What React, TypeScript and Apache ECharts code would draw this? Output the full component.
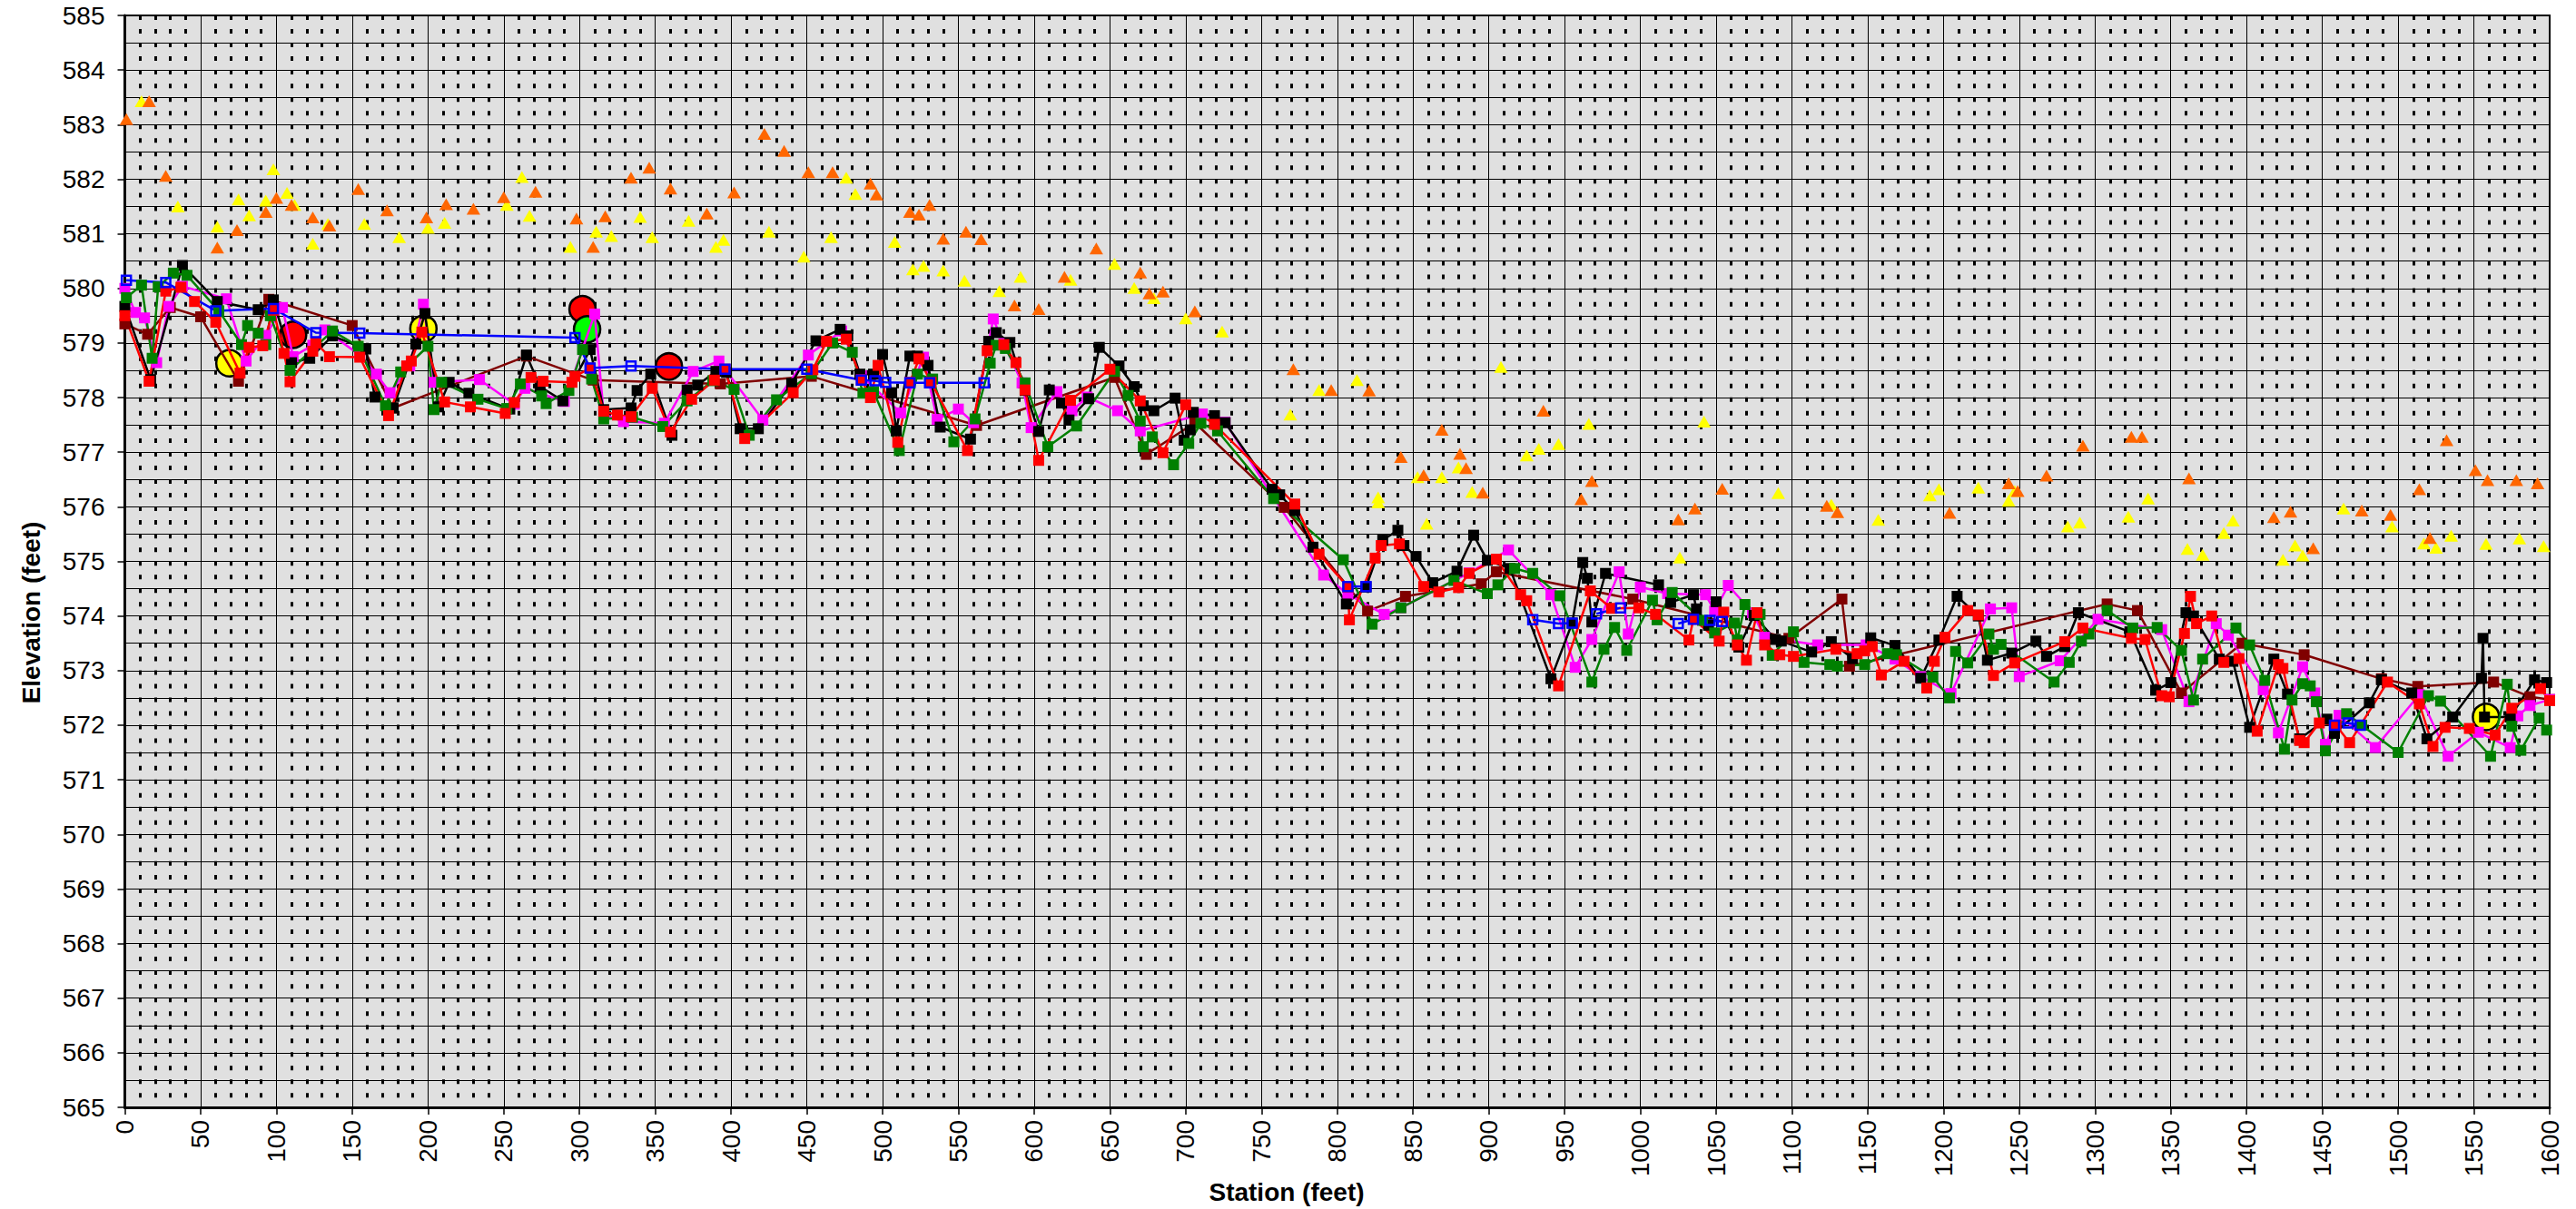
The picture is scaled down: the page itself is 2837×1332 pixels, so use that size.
import React, { useEffect, useRef } from "react";
import * as echarts from "echarts";

const W = 2837;
const H = 1332;
const FONT = "'Liberation Sans', Arial, sans-serif";

// Axis ranges / ticks
const xMin = 0, xMax = 1600, xStep = 50;
const yMin = 565, yMax = 585, yStep = 1;

// [station, elevation]
const blackSeries: [number, number][] = [
  [0,579.67],[17,578.33],[38,580.42],[61,579.76],[88,579.61],[98,579.79],[110,578.64],[122,578.72],[137,579.13],[159,578.89],[165,578.01],[177,577.81],[192,578.98],[198,579.54],[207,577.83],[214,578.28],[227,578.08],[254,577.79],[265,578.78],[274,578.2],[289,577.94],[307,578.88],[316,577.78],[334,577.81],[338,578.13],[347,578.43],[361,577.31],[371,578.14],[378,578.23],[390,578.48],[397,578.46],[406,577.43],[418,577.43],[440,578.26],[456,579.04],[472,579.25],[477,579.13],[485,578.43],[494,578.43],[500,578.79],[506,578.09],[509,577.39],[518,578.76],[523,578.76],[530,578.59],[538,577.46],[558,577.24],[570,579.03],[575,579.19],[584,579.01],[594,578.13],[603,577.38],[610,578.14],[618,577.9],[623,577.59],[636,577.98],[643,578.92],[656,578.58],[666,578.2],[672,577.85],[679,577.76],[693,577.99],[699,577.22],[703,577.41],[705,577.73],[719,577.67],[726,577.54],[757,576.32],[762,576.22],[772,575.93],[784,575.26],[806,574.22],[819,574.53],[830,575.39],[840,575.57],[844,575.29],[852,575.09],[863,574.61],[879,574.82],[890,575.48],[899,575.02],[914,574.87],[941,572.85],[955,573.87],[962,574.98],[965,574.69],[968,573.89],[977,574.78],[1012,574.57],[1020,574.25],[1035,574.39],[1037,574.13],[1045,573.83],[1050,574.26],[1065,573.43],[1075,574.01],[1089,573.57],[1093,573.54],[1113,573.34],[1126,573.53],[1140,573.22],[1152,573.6],[1168,573.46],[1185,572.86],[1197,573.56],[1209,574.36],[1223,574.0],[1229,573.19],[1245,573.32],[1261,573.54],[1268,573.26],[1280,573.44],[1289,574.06],[1323,573.71],[1340,572.64],[1350,572.78],[1360,574.06],[1365,574.0],[1382,573.21],[1391,573.17],[1402,571.96],[1418,573.21],[1427,572.57],[1435,571.75],[1453,572.11],[1458,571.85],[1481,572.41],[1489,572.83],[1509,572.59],[1519,571.75],[1536,572.15],[1555,572.86],[1556,573.59],[1557,572.15],[1574,572.15],[1590,572.83],[1598,572.78]
];

const greenSeries: [number, number][] = [
  [1,579.83],[11,580.06],[18,578.72],[22,580.03],[32,580.28],[41,580.24],[62,579.59],[77,578.97],[81,579.32],[88,579.18],[93,578.97],[96,579.5],[109,578.5],[137,579.22],[154,578.94],[172,577.85],[182,578.47],[200,578.94],[204,577.78],[209,578.28],[233,577.97],[252,577.8],[261,578.25],[275,578.03],[278,577.89],[293,578.13],[302,578.88],[308,578.34],[316,577.61],[335,577.64],[355,577.47],[371,577.94],[388,578.31],[402,578.15],[412,577.31],[430,577.96],[453,578.44],[467,579.0],[480,578.83],[487,578.08],[494,578.11],[511,577.03],[523,578.43],[533,578.34],[547,577.19],[561,577.61],[571,578.63],[575,578.96],[581,578.9],[594,578.27],[609,577.1],[628,577.48],[653,578.48],[662,578.04],[670,577.57],[672,577.1],[678,577.28],[692,576.77],[702,577.16],[710,577.53],[721,577.39],[758,576.15],[804,575.03],[823,573.85],[842,574.15],[877,574.65],[899,574.41],[906,574.57],[917,574.87],[929,574.78],[947,574.37],[968,572.79],[976,573.39],[983,573.79],[991,573.37],[1008,574.29],[1011,573.93],[1021,574.43],[1041,573.92],[1049,573.69],[1062,573.87],[1064,573.56],[1069,574.21],[1077,574.06],[1079,574.03],[1087,573.28],[1101,573.71],[1108,573.15],[1125,573.11],[1130,573.08],[1148,573.11],[1163,573.31],[1169,573.29],[1193,572.88],[1204,572.5],[1208,573.35],[1216,573.14],[1230,573.67],[1233,573.39],[1238,573.48],[1273,572.79],[1283,573.15],[1291,573.54],[1296,573.67],[1308,574.1],[1325,573.78],[1341,573.79],[1357,573.37],[1365,572.46],[1371,573.21],[1393,573.78],[1402,573.47],[1412,572.82],[1425,571.56],[1430,572.46],[1437,572.76],[1442,572.72],[1446,572.43],[1452,571.53],[1466,572.21],[1476,572.0],[1500,571.5],[1520,572.54],[1528,572.44],[1561,571.43],[1572,572.75],[1575,571.98],[1581,571.54],[1593,572.13],[1598,571.91]
];

const redSeries: [number, number][] = [
  [0,579.5],[16,578.3],[27,579.95],[37,580.02],[46,579.76],[60,579.38],[76,578.45],[82,578.92],[91,578.95],[98,579.6],[105,578.81],[109,578.29],[124,578.85],[126,579.0],[135,578.75],[155,578.74],[174,577.67],[186,578.58],[189,578.67],[196,579.2],[211,577.92],[228,577.83],[251,577.71],[257,577.91],[268,578.37],[276,578.3],[295,578.28],[297,578.39],[307,578.54],[316,577.75],[325,577.68],[334,577.65],[348,578.17],[360,577.37],[374,577.97],[389,578.32],[396,578.52],[409,577.25],[441,578.09],[454,578.51],[463,579.03],[476,579.07],[486,578.33],[492,578.0],[497,578.59],[510,577.18],[518,578.28],[524,578.71],[532,578.28],[556,577.03],[569,578.86],[580,578.97],[588,578.64],[594,578.14],[603,576.85],[624,577.95],[650,578.52],[670,577.94],[685,576.99],[700,577.87],[719,577.51],[772,576.05],[788,575.13],[807,574.53],[808,573.93],[825,575.06],[829,575.29],[841,575.32],[857,574.54],[867,574.44],[880,574.52],[887,574.78],[905,575.04],[921,574.39],[925,574.28],[946,572.72],[967,574.46],[981,574.14],[999,574.15],[1010,574.03],[1032,573.56],[1035,573.94],[1052,573.54],[1055,574.07],[1064,573.47],[1070,573.19],[1077,574.06],[1082,573.47],[1092,573.29],[1101,573.26],[1129,573.39],[1143,573.31],[1148,573.36],[1153,573.44],[1159,572.92],[1174,573.17],[1189,572.68],[1194,573.17],[1201,573.61],[1216,574.1],[1223,574.02],[1233,572.91],[1247,573.14],[1280,573.53],[1292,573.78],[1324,573.59],[1333,573.57],[1344,572.54],[1349,572.52],[1359,573.68],[1363,574.36],[1367,573.86],[1377,574.0],[1385,573.15],[1395,573.22],[1407,571.89],[1421,573.11],[1424,573.04],[1435,571.72],[1438,571.68],[1448,572.04],[1459,572.0],[1468,571.68],[1493,572.79],[1514,572.39],[1523,571.61],[1531,571.96],[1547,571.94],[1564,571.82],[1575,572.31],[1594,572.67],[1600,572.45]
];

const magentaSeries: [number, number][] = [
  [0,580.0],[7,579.56],[13,579.46],[21,578.64],[29,579.67],[38,580.04],[67,579.81],[80,578.67],[93,579.14],[104,579.65],[111,578.75],[124,578.96],[132,579.24],[155,578.78],[166,578.43],[175,578.09],[188,578.58],[197,579.71],[204,578.28],[234,578.33],[257,577.88],[264,578.17],[290,577.93],[310,579.53],[316,577.69],[329,577.56],[356,577.53],[375,578.48],[392,578.67],[421,577.59],[451,578.78],[473,579.22],[486,578.4],[512,577.72],[527,578.74],[536,577.6],[550,577.79],[560,577.54],[573,579.44],[580,578.99],[592,578.27],[598,577.45],[615,578.11],[625,577.76],[635,578.01],[655,577.76],[670,577.39],[711,577.7],[726,577.55],[791,574.75],[807,574.4],[831,574.03],[842,574.15],[887,574.79],[913,575.21],[941,574.39],[957,573.06],[968,573.57],[986,574.81],[992,573.67],[1000,574.53],[1018,574.41],[1043,574.39],[1049,574.09],[1058,574.56],[1074,574.06],[1082,573.61],[1117,573.47],[1149,573.47],[1168,573.21],[1185,572.89],[1205,572.58],[1231,574.13],[1245,574.15],[1250,572.89],[1277,573.18],[1302,573.94],[1344,573.75],[1362,572.43],[1380,573.86],[1388,573.65],[1411,572.65],[1421,571.86],[1437,573.07],[1445,572.59],[1452,571.65],[1461,572.18],[1485,571.59],[1514,572.56],[1533,571.43],[1553,571.87],[1574,571.59],[1579,572.17],[1587,572.36],[1600,572.47]
];

const maroonSeries: [number, number][] = [
  [0,579.35],[15,579.16],[30,579.65],[50,579.48],[75,578.3],[95,579.8],[150,579.32],[177,577.81],[265,578.76],[309,578.32],[393,578.25],[453,578.39],[562,577.49],[653,578.37],[674,576.96],[706,577.54],[765,575.99],[820,574.09],[845,574.36],[895,574.59],[905,574.81],[995,574.31],[1098,573.59],[1133,574.31],[1138,573.08],[1308,574.22],[1328,574.1],[1357,572.59],[1397,573.5],[1438,573.29],[1489,572.85],[1513,572.71],[1563,572.79],[1587,572.52],[1600,572.47]
];

// blue survey line, null marks a break in the line
const blueSeries: ([number, number] | null)[] = [
  [1,580.15],[27,580.11],[60,579.59],[98,579.63],[126,579.19],[155,579.18],[297,579.1],[307,578.54],[334,578.58],[396,578.52],[450,578.52],[486,578.32],[495,578.31],[502,578.28],[518,578.27],[531,578.27],[567,578.27],
  null,
  [807,574.54],[819,574.54],
  null,
  [929,573.93],[946,573.86],[955,573.87],
  null,
  [971,574.04],[987,574.15],
  null,
  [1025,573.86],[1035,573.94],[1046,573.92],[1054,573.9],
  null,
  [1458,572.0],[1467,572.04],[1475,572.0]
];

const yellowTriangles: [number, number][] = [
  [11,583.43],[35,581.5],[61,581.13],[75,581.63],[82,581.34],[93,581.61],[98,582.18],[107,581.75],[112,581.53],[124,580.82],[134,581.18],[158,581.18],[181,580.94],[200,581.11],[211,581.2],[252,581.53],[262,582.04],[267,581.33],[294,580.76],[311,581.04],[321,580.96],[340,581.31],[348,580.94],[372,581.24],[390,580.76],[395,580.89],[425,581.04],[448,580.58],[466,580.94],[476,582.03],[482,581.73],[508,580.85],[520,580.35],[527,580.41],[540,580.33],[554,580.14],[577,579.95],[591,580.21],[624,580.16],[653,580.45],[666,580.01],[679,579.82],[700,579.45],[724,579.21],[769,577.69],[788,578.14],[813,578.32],[827,576.17],[827,576.08],[853,576.54],[859,575.69],[869,576.54],[880,576.72],[889,576.27],[908,578.56],[925,576.94],[933,577.06],[946,577.15],[966,577.52],[1026,575.07],[1042,577.56],[1091,576.25],[1126,576.04],[1157,575.76],[1191,576.21],[1197,576.32],[1223,576.35],[1243,576.11],[1247,576.29],[1282,575.64],[1290,575.71],[1322,575.82],[1335,576.15],[1361,575.23],[1371,575.12],[1385,575.52],[1391,575.75],[1424,575.03],[1432,575.29],[1437,575.11],[1464,575.97],[1496,575.64],[1517,575.33],[1525,575.25],[1535,575.47],[1558,575.32],[1580,575.42],[1596,575.28]
];

const orangeTriangles: [number, number][] = [
  [1,583.1],[16,583.43],[27,582.06],[61,580.75],[74,581.07],[93,581.4],[100,581.66],[110,581.53],[124,581.3],[135,581.15],[154,581.82],[173,581.43],[199,581.3],[212,581.54],[230,581.46],[250,581.67],[271,581.77],[298,581.28],[309,580.76],[317,581.32],[334,582.03],[346,582.21],[360,581.83],[384,581.37],[402,581.76],[422,582.83],[435,582.52],[451,582.13],[467,582.13],[492,581.92],[496,581.72],[518,581.4],[524,581.35],[531,581.53],[540,580.91],[555,581.04],[565,580.9],[587,579.69],[603,579.62],[620,580.21],[641,580.73],[670,580.29],[676,579.91],[685,579.94],[706,579.58],[771,578.52],[796,578.14],[821,578.13],[842,576.91],[857,576.58],[869,577.41],[881,576.97],[885,576.71],[896,576.26],[936,577.76],[961,576.14],[968,576.47],[1025,575.77],[1036,575.97],[1054,576.33],[1123,576.02],[1130,575.9],[1204,575.89],[1243,576.43],[1249,576.29],[1268,576.57],[1292,577.12],[1324,577.28],[1331,577.28],[1362,576.52],[1418,575.81],[1429,575.91],[1444,575.24],[1476,575.93],[1495,575.85],[1514,576.32],[1521,575.43],[1532,577.22],[1551,576.67],[1559,576.49],[1578,576.49],[1592,576.43]
];

const yellowCircles: [number, number][] = [[69,578.63],[197,579.26],[1558,572.15]];
const redCircles: [number, number][] = [[111,579.15],[302,579.62],[359,578.57]];
const greenCircles: [number, number][] = [[305,579.25]];

function splitSegments(pts: ([number, number] | null)[]): [number, number][][] {
  const segs: [number, number][][] = [];
  let cur: [number, number][] = [];
  for (const p of pts) {
    if (p === null) {
      if (cur.length) segs.push(cur);
      cur = [];
    } else cur.push(p);
  }
  if (cur.length) segs.push(cur);
  return segs;
}

function lineSeries(data: [number, number][], color: string) {
  return {
    type: "line",
    data,
    symbol: "rect",
    symbolSize: 12,
    showSymbol: true,
    lineStyle: { color, width: 2.5 },
    itemStyle: { color, opacity: 1 },
    emphasis: { disabled: true },
    silent: true,
  };
}

function scatterSeries(data: [number, number][], symbol: string, size: any, color: string, border?: boolean) {
  return {
    type: "scatter",
    data,
    symbol,
    symbolSize: size,
    itemStyle: border
      ? { color, borderColor: "#000", borderWidth: 2.5, opacity: 1 }
      : { color, opacity: 1 },
    emphasis: { disabled: true },
    silent: true,
  };
}

export default function App() {
  const ref = useRef<HTMLDivElement>(null);
  useEffect(() => {
    if (!ref.current) return;
    const chart = echarts.init(ref.current, null, { renderer: "svg", width: W, height: H });
    const blueSegs = splitSegments(blueSeries).map((seg) => ({
      type: "line",
      data: seg,
      symbol: "rect",
      symbolSize: 10,
      showSymbol: true,
      lineStyle: { color: "#0000ff", width: 2.5 },
      itemStyle: { color: "rgba(0,0,0,0)", borderColor: "#0000ff", borderWidth: 2.5, opacity: 1 },
      emphasis: { disabled: true },
      silent: true,
    }));
    const option: any = {
      animation: false,
      backgroundColor: "#ffffff",
      textStyle: { fontFamily: FONT },
      grid: {
        left: 137.5,
        right: W - 2808,
        top: 17,
        bottom: H - 1220,
        show: true,
        backgroundColor: "#e0e0e0",
        borderColor: "#000",
        borderWidth: 2,
        containLabel: false,
      },
      xAxis: {
        type: "value",
        min: xMin,
        max: xMax,
        interval: xStep,
        axisLine: { show: true, lineStyle: { color: "#000", width: 3 } },
        axisTick: { show: true, length: 8, inside: false, lineStyle: { color: "#000", width: 1.5 } },
        axisLabel: {
          rotate: 90,
          fontSize: 28,
          color: "#000",
          fontFamily: FONT,
          margin: 14,
          formatter: (v: number) => String(v),
        },
        splitLine: { show: true, lineStyle: { color: "#000", width: 1 } },
        minorTick: { show: false, splitNumber: 5 },
        minorSplitLine: { show: true, lineStyle: { color: "#000", width: 3, type: [5, 10.03], dashOffset: 0 } },
      },
      yAxis: {
        type: "value",
        min: yMin,
        max: yMax,
        interval: yStep,
        axisLine: { show: true, lineStyle: { color: "#000", width: 3 } },
        axisTick: { show: true, length: 8, inside: false, lineStyle: { color: "#000", width: 1.5 } },
        axisLabel: { fontSize: 28, color: "#000", fontFamily: FONT, margin: 22, formatter: (v: number) => String(v) },
        splitLine: { show: true, lineStyle: { color: "#000", width: 1 } },
        minorTick: { show: false, splitNumber: 2 },
        minorSplitLine: { show: true, lineStyle: { color: "#000", width: 1 } },
      },
      graphic: [
        {
          type: "text",
          x: 34,
          y: 675,
          rotation: Math.PI / 2,
          style: {
            text: "Elevation (feet)",
            font: `bold 28px ${FONT}`,
            fill: "#000",
            textAlign: "center",
            textVerticalAlign: "middle",
          },
        },
        {
          type: "text",
          x: 1417,
          y: 1313,
          style: {
            text: "Station (feet)",
            font: `bold 28px ${FONT}`,
            fill: "#000",
            textAlign: "center",
            textVerticalAlign: "middle",
          },
        },
      ],
      series: [
        lineSeries(maroonSeries, "#800000"),
        lineSeries(magentaSeries, "#ff00ff"),
        lineSeries(blackSeries, "#000000"),
        lineSeries(greenSeries, "#008000"),
        lineSeries(redSeries, "#ff0000"),
        ...blueSegs,
        scatterSeries(yellowTriangles, "triangle", [15, 13], "#ffff00"),
        scatterSeries(orangeTriangles, "triangle", [15, 13], "#ff6600"),
        scatterSeries(yellowCircles, "circle", 29, "#ffff00", true),
        scatterSeries(redCircles, "circle", 29, "#ff0000", true),
        scatterSeries(greenCircles, "circle", 29, "#00ff00", true),
      ],
    };
    chart.setOption(option);
    return () => chart.dispose();
  }, []);
  return (
    <div
      ref={ref}
      style={{ position: "fixed", left: 0, top: 0, width: W, height: H, background: "#fff" }}
    />
  );
}
